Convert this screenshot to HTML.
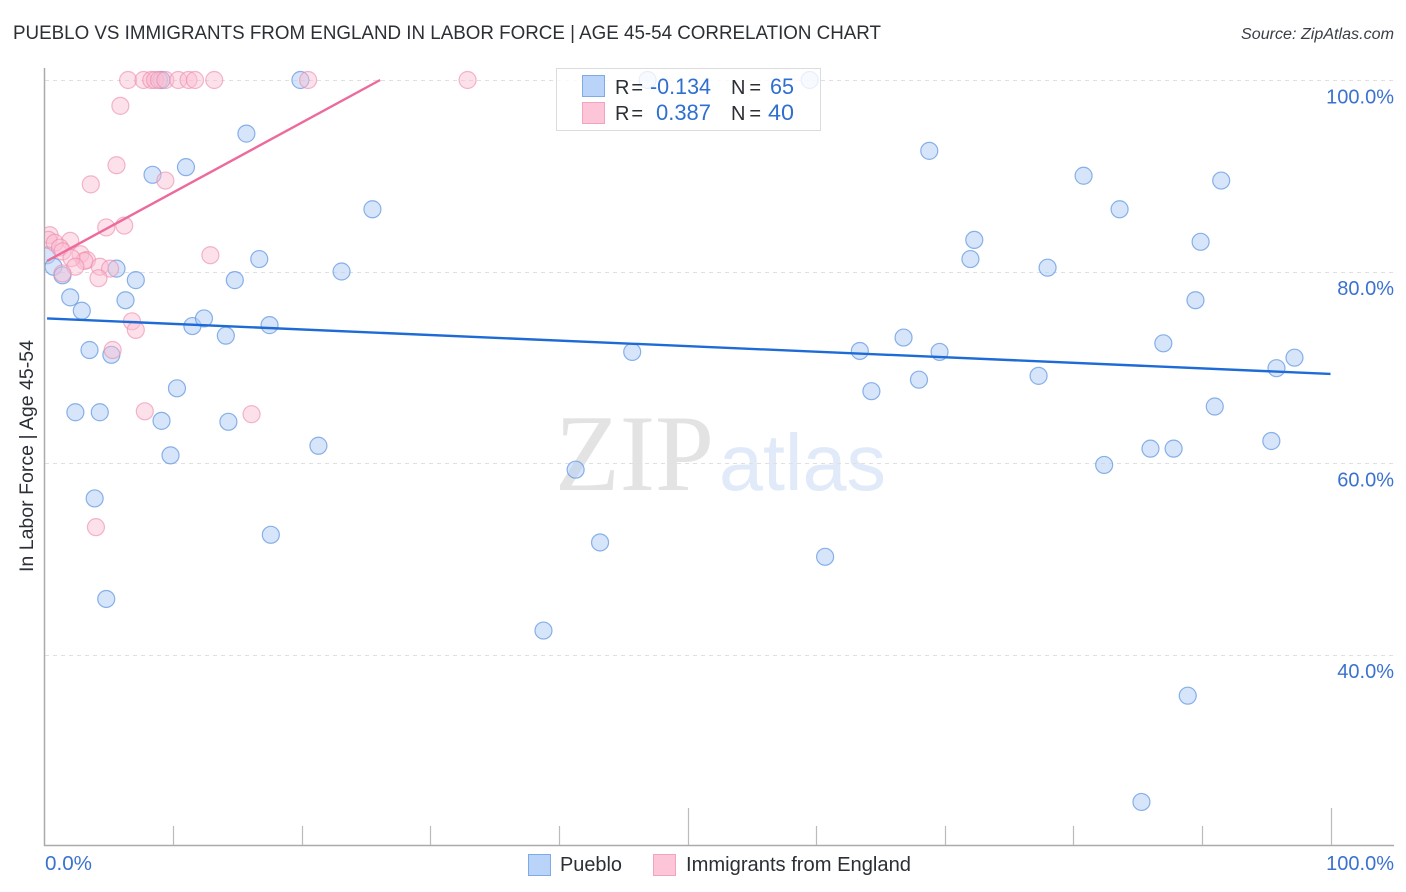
<!DOCTYPE html>
<html lang="en">
<head>
<meta charset="utf-8">
<title>Pueblo vs Immigrants from England in Labor Force | Age 45-54 Correlation Chart</title>
<style>
html,body{margin:0;padding:0;background:#fff;width:1406px;height:892px;overflow:hidden}
svg{display:block}
text{font-family:"Liberation Sans",sans-serif}
</style>
</head>
<body>
<svg id="chart" xmlns="http://www.w3.org/2000/svg" width="1406" height="892" viewBox="0 0 1406 892">
  <defs>
    <clipPath id="plot-clip"><rect x="45" y="60" width="1361" height="786"/></clipPath>
  </defs>
  <text x="13" y="39" font-size="19.5" fill="#2b2f36" textLength="868" lengthAdjust="spacingAndGlyphs">PUEBLO VS IMMIGRANTS FROM ENGLAND IN LABOR FORCE | AGE 45-54 CORRELATION CHART</text>
  <text x="1241" y="39" font-size="15.5" font-style="italic" fill="#3a3f47" textLength="153" lengthAdjust="spacingAndGlyphs">Source: ZipAtlas.com</text>

  <g>
    <text x="555" y="490" font-size="109" fill="#e3e3e3" textLength="159" lengthAdjust="spacingAndGlyphs" style="font-family:'Liberation Serif',serif">ZIP</text>
    <text x="719" y="490" font-size="80" fill="#e0eaf9" textLength="167" lengthAdjust="spacingAndGlyphs">atlas</text>
  </g>

  <g id="grid"></g>
  <g id="axes"></g>
  <g id="pueblo-points" clip-path="url(#plot-clip)"></g>
  <g id="england-points" clip-path="url(#plot-clip)"></g>
  <g id="trends" clip-path="url(#plot-clip)"></g>
  <g id="ticklabels"></g>

  <text transform="translate(33,456) rotate(-90)" font-size="19" fill="#2b2f36" text-anchor="middle" textLength="232" lengthAdjust="spacingAndGlyphs">In Labor Force | Age 45-54</text>

  <g>
    <rect x="556.5" y="68.5" width="264" height="62" fill="#ffffff" fill-opacity="0.8" stroke="#dcdcdc" stroke-width="1"/>
    <rect x="582.5" y="75.5" width="22" height="21" fill="#b9d4f8" stroke="#7eabe6" stroke-width="1"/>
    <rect x="582.5" y="102.5" width="22" height="21" fill="#fcc6d8" stroke="#f2a3bd" stroke-width="1"/>
    <text x="615" y="94" font-size="20" fill="#2b2f36" textLength="28">R =</text>
    <text x="650" y="94" font-size="22" fill="#2f6fd0" textLength="61" lengthAdjust="spacingAndGlyphs">-0.134</text>
    <text x="731" y="94" font-size="20" fill="#2b2f36" textLength="30">N =</text>
    <text x="770" y="94" font-size="22" fill="#2f6fd0" textLength="24" lengthAdjust="spacingAndGlyphs">65</text>
    <text x="615" y="120" font-size="20" fill="#2b2f36" textLength="28">R =</text>
    <text x="656" y="120" font-size="22" fill="#2f6fd0" textLength="55" lengthAdjust="spacingAndGlyphs">0.387</text>
    <text x="731" y="120" font-size="20" fill="#2b2f36" textLength="30">N =</text>
    <text x="768" y="120" font-size="22" fill="#2f6fd0" textLength="26" lengthAdjust="spacingAndGlyphs">40</text>
  </g>

  <g>
    <rect x="528.5" y="854.5" width="22" height="21" fill="#b9d4f8" stroke="#7eabe6" stroke-width="1"/>
    <text x="560" y="871" font-size="20" fill="#2b2f36" textLength="62" lengthAdjust="spacingAndGlyphs">Pueblo</text>
    <rect x="653.5" y="854.5" width="22" height="21" fill="#fcc6d8" stroke="#f2a3bd" stroke-width="1"/>
    <text x="686" y="871" font-size="20" fill="#2b2f36" textLength="225" lengthAdjust="spacingAndGlyphs">Immigrants from England</text>
  </g>
</svg>
<script>
const yTickValues = [100, 80, 60, 40];
const yTickLabels = ["100.0%", "80.0%", "60.0%", "40.0%"];
const xTickValues = [0, 10, 20, 30, 40, 50, 60, 70, 80, 90, 100];
const xEdgeLabels = ["0.0%", "100.0%"];

const puebloX = [0.2,0.7,1.4,5.6,7.1,2.0,2.9,6.3,3.5,5.2,11.5,12.4,14.1,17.5,14.8,16.7,23.1,15.7,11.0,8.4,9.1,19.9,25.5,46.9,59.5,68.8,80.8,83.6,91.5,72.3,72.0,78.0,89.9,89.5,87.0,97.2,95.8,91.0,95.4,86.0,87.8,82.4,77.3,69.6,66.8,63.4,68.0,64.3,45.7,41.3,43.2,60.7,38.8,88.9,85.3,10.3,9.1,14.3,21.3,9.8,2.4,4.3,3.9,17.6,4.8];
const puebloY = [81.7,80.5,79.6,80.3,79.1,77.3,75.9,77.0,71.8,71.3,74.3,75.1,73.3,74.4,79.1,81.3,80.0,94.4,90.9,90.1,100,100,86.5,100,100,92.6,90.0,86.5,89.5,83.3,81.3,80.4,83.1,77.0,72.5,71.0,69.9,65.9,62.3,61.5,61.5,59.8,69.1,71.6,73.1,71.7,68.7,67.5,71.6,59.3,51.7,50.2,42.5,35.7,24.6,67.8,64.4,64.3,61.8,60.8,65.3,65.3,56.3,52.5,45.8];

const englandX = [6.5,7.7,8.3,8.6,8.9,9.4,10.4,11.2,11.7,13.2,20.5,32.9,5.9,5.6,3.6,9.4,4.8,6.2,12.9,6.8,7.1,5.3,7.8,16.1,4.0,0.4,0.3,2.0,0.8,1.2,1.4,2.8,3.3,3.1,2.1,4.3,5.1,4.2,2.4,1.4];
const englandY = [100,100,100,100,100,100,100,100,100,100,100,100,97.3,91.1,89.1,89.5,84.6,84.8,81.7,74.8,73.9,71.8,65.4,65.1,53.3,83.8,83.3,83.2,83.0,82.5,82.1,81.8,81.2,81.1,81.4,80.5,80.3,79.3,80.5,79.8];

const puebloTrendX = [0.2, 100];
const puebloTrendY = [75.1, 69.3];
const englandTrendX = [0.2, 26.1];
const englandTrendY = [81.1, 100];

const SVGNS = "http://www.w3.org/2000/svg";
const xScale = v => 44.5 + v * 12.86;
const yScale = v => 80 + (100 - v) * 9.575;

function make(tag, attrs, parent) {
  const el = document.createElementNS(SVGNS, tag);
  for (const k in attrs) el.setAttribute(k, attrs[k]);
  parent.appendChild(el);
  return el;
}

const gridG = document.getElementById("grid");
const axesG = document.getElementById("axes");
const labelsG = document.getElementById("ticklabels");
const puebloG = document.getElementById("pueblo-points");
const englandG = document.getElementById("england-points");
const trendsG = document.getElementById("trends");

yTickValues.forEach(function (v, i) {
  const y = Math.round(yScale(v)) + 0.5;
  const line = make("line", {x1: 45, x2: 1394, y1: y, y2: y, stroke: "#e0e0e0", "stroke-width": 1, "stroke-dasharray": "4 4"}, gridG);
  
  
  const label = make("text", {x: 1394, y: yScale(v) + 23.5, "font-size": 20, fill: "#3b72cf", "text-anchor": "end"}, labelsG);
  label.textContent = yTickLabels[i];
  
  
});

const yAxis = make("line", {x1: 44.5, x2: 44.5, y1: 68, y2: 846, stroke: "#aaaaaa", "stroke-width": 1.5}, axesG);


const xAxis = make("line", {x1: 44, x2: 1394, y1: 845.5, y2: 845.5, stroke: "#aaaaaa", "stroke-width": 1.5}, axesG);



xTickValues.forEach(function (v) {
  if (v === 0) return;
  const x = Math.round(xScale(v)) + 0.5;
  const top = v % 50 === 0 ? 808 : 826;
  const tick = make("line", {x1: x, x2: x, y1: top, y2: 845, stroke: "#bbbbbb", "stroke-width": 1.2}, axesG);
  
  
});

const xLabelLeft = make("text", {x: 45, y: 870, "font-size": 20, fill: "#3b72cf", textLength: 47, lengthAdjust: "spacingAndGlyphs"}, labelsG);
xLabelLeft.textContent = xEdgeLabels[0];


const xLabelRight = make("text", {x: 1394, y: 870, "font-size": 20, fill: "#3b72cf", "text-anchor": "end"}, labelsG);
xLabelRight.textContent = xEdgeLabels[1];



puebloX.forEach(function (v, i) {
  const c = make("circle", {cx: xScale(v), cy: yScale(puebloY[i]), r: 8.5, fill: "#b5d0f6", "fill-opacity": 0.55, stroke: "#5f95e0", "stroke-opacity": 0.72, "stroke-width": 1.2}, puebloG);
  
  
});

englandX.forEach(function (v, i) {
  const c = make("circle", {cx: xScale(v), cy: yScale(englandY[i]), r: 8.5, fill: "#fbbcd0", "fill-opacity": 0.45, stroke: "#ee8aab", "stroke-opacity": 0.62, "stroke-width": 1.2}, englandG);
  
  
});

const puebloLine = make("line", {x1: xScale(puebloTrendX[0]), y1: yScale(puebloTrendY[0]), x2: xScale(puebloTrendX[1]), y2: yScale(puebloTrendY[1]), stroke: "#1f6bd6", "stroke-width": 2.4}, trendsG);


const englandLine = make("line", {x1: xScale(englandTrendX[0]), y1: yScale(englandTrendY[0]), x2: xScale(englandTrendX[1]), y2: yScale(englandTrendY[1]), stroke: "#ec6a9c", "stroke-width": 2.4}, trendsG);


</script>
</body>
</html>
